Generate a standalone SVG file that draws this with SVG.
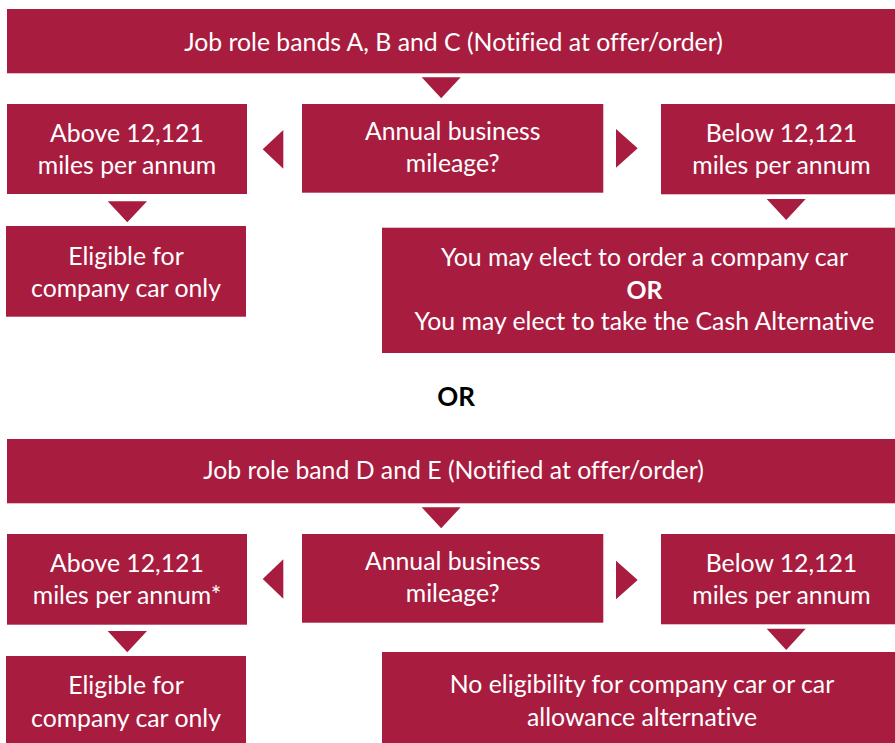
<svg xmlns="http://www.w3.org/2000/svg" width="895" height="743" viewBox="0 0 895 743">
  <style>
    .box { fill: #A81D3F; }
    .arrow { fill: #A81D3F; }
    .lbl { font-family: Lato, "Liberation Sans", sans-serif; font-size: 24.8px; fill: #FFFFFF; text-anchor: middle; font-variant-ligatures: none; }
    .bold { font-weight: bold; }
    .sep { font-family: Lato, "Liberation Sans", sans-serif; font-size: 26px; font-weight: bold; fill: #000000; text-anchor: middle; }
  </style>
  <rect x="0" y="0" width="895" height="743" fill="#FFFFFF"/>

  <!-- Bands A, B and C -->
  <g id="bands-abc">
    <rect class="box" x="7" y="9" width="895" height="64.3"/>
    <text class="lbl" x="453.5" y="50.7">Job role bands A, B and C (Notified at offer/order)</text>
  </g>
  <g id="abc-mileage">
    <rect class="box" x="302" y="104" width="301.3" height="88.7"/>
    <text class="lbl" x="452.7" y="140">Annual business</text>
    <text class="lbl" x="452.7" y="171.7">mileage?</text>
  </g>
  <g id="abc-above">
    <rect class="box" x="7" y="104" width="240" height="90"/>
    <text class="lbl" x="127" y="141.5">Above 12,121</text>
    <text class="lbl" x="127" y="173.5">miles per annum</text>
  </g>
  <g id="abc-below">
    <rect class="box" x="661" y="104" width="241" height="90.3"/>
    <text class="lbl" x="781.5" y="141.5">Below 12,121</text>
    <text class="lbl" x="781.5" y="173.5">miles per annum</text>
  </g>
  <g id="abc-car-only">
    <rect class="box" x="6" y="226" width="240" height="90.7"/>
    <text class="lbl" x="126" y="265">Eligible for</text>
    <text class="lbl" x="126" y="297.3">company car only</text>
  </g>
  <g id="abc-choice">
    <rect class="box" x="382" y="227.7" width="520" height="125.3"/>
    <text class="lbl" x="644.5" y="265.7">You may elect to order a company car</text>
    <text class="lbl bold" x="644.5" y="299.3">OR</text>
    <text class="lbl" x="644.5" y="330">You may elect to take the Cash Alternative</text>
  </g>

  <!-- Separator between the two band groups -->
  <g id="separator">
    <text class="sep" x="456" y="406">OR</text>
  </g>

  <!-- Bands D and E -->
  <g id="bands-de">
    <rect class="box" x="7" y="439" width="895" height="64.3"/>
    <text class="lbl" x="453.5" y="479.3">Job role band D and E (Notified at offer/order)</text>
  </g>
  <g id="de-mileage">
    <rect class="box" x="302" y="534" width="301.3" height="88.7"/>
    <text class="lbl" x="452.7" y="570">Annual business</text>
    <text class="lbl" x="452.7" y="601.7">mileage?</text>
  </g>
  <g id="de-above">
    <rect class="box" x="7" y="534" width="240" height="90.7"/>
    <text class="lbl" x="127" y="571.7">Above 12,121</text>
    <text class="lbl" x="127" y="604">miles per annum*</text>
  </g>
  <g id="de-below">
    <rect class="box" x="661" y="534" width="241" height="90.3"/>
    <text class="lbl" x="781.5" y="571.7">Below 12,121</text>
    <text class="lbl" x="781.5" y="604">miles per annum</text>
  </g>
  <g id="de-car-only">
    <rect class="box" x="6" y="656" width="240" height="90"/>
    <text class="lbl" x="126" y="694">Eligible for</text>
    <text class="lbl" x="126" y="727">company car only</text>
  </g>
  <g id="de-none">
    <rect class="box" x="382" y="652" width="520" height="94"/>
    <text class="lbl" x="642" y="693.3">No eligibility for company car or car</text>
    <text class="lbl" x="642" y="725.7">allowance alternative</text>
  </g>

  <!-- Connectors: solid triangles pointing along the flow -->
  <g id="connectors">
    <polygon class="arrow" points="421.7,77.3 460.7,77.3 441.2,98.3"/>
    <polygon class="arrow" points="283.3,130 283.3,168.7 262.7,149.3"/>
    <polygon class="arrow" points="616,129 616,167.7 637.7,148.3"/>
    <polygon class="arrow" points="107.7,201.3 147,201.3 127.3,222.3"/>
    <polygon class="arrow" points="766.7,199 805.7,199 786.2,220"/>

    <polygon class="arrow" points="421.7,507.3 460.7,507.3 441.2,528.3"/>
    <polygon class="arrow" points="283.3,559.3 283.3,598.7 262.7,579"/>
    <polygon class="arrow" points="616,560.7 616,599.3 637.7,580"/>
    <polygon class="arrow" points="107.7,631 147,631 127.3,652.3"/>
    <polygon class="arrow" points="766.7,628.7 805.7,628.7 786.2,650"/>
  </g>
</svg>
